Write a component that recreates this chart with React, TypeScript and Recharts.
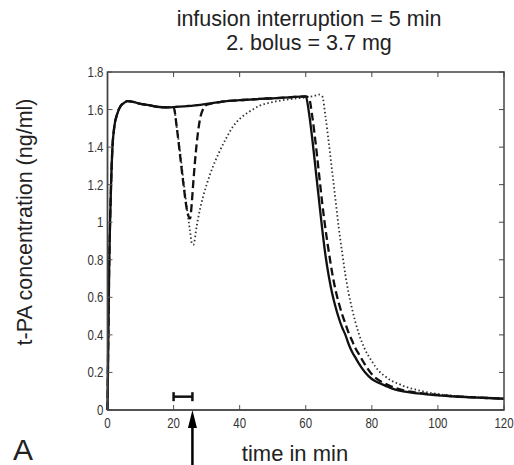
import React from 'react';
import { LineChart, Line, XAxis, YAxis, ReferenceLine, ReferenceDot } from 'recharts';

const TIME = [0, 0.5, 1, 1.5, 2, 3, 4, 5, 6, 8, 10, 12, 15, 18, 20, 21, 22, 23, 24, 25, 25.5, 26, 27, 28, 29, 30, 32, 34, 36, 38, 40, 43, 46, 50, 55, 60, 61, 62, 63, 64, 65, 66, 67, 68, 69, 70, 71, 72, 73, 74, 75, 76, 78, 80, 82, 84, 86, 88, 90, 93, 96, 100, 105, 110, 115, 120];

const SOLID = [0, 0.75, 1.15, 1.4, 1.5, 1.58, 1.62, 1.635, 1.645, 1.64, 1.63, 1.625, 1.615, 1.612, 1.613, 1.615, 1.616, 1.617, 1.618, 1.62, 1.62, 1.621, 1.623, 1.625, 1.628, 1.63, 1.635, 1.64, 1.645, 1.648, 1.65, 1.653, 1.657, 1.66, 1.665, 1.67, 1.58, 1.44, 1.28, 1.12, 0.96, 0.82, 0.71, 0.62, 0.55, 0.49, 0.44, 0.4, 0.35, 0.31, 0.28, 0.25, 0.2, 0.165, 0.145, 0.13, 0.115, 0.105, 0.098, 0.09, 0.085, 0.078, 0.072, 0.068, 0.064, 0.06];

const DASHED = [0, 0.75, 1.15, 1.4, 1.5, 1.58, 1.62, 1.635, 1.645, 1.64, 1.63, 1.625, 1.615, 1.612, 1.613, 1.5, 1.35, 1.2, 1.07, 1.02, 1.1, 1.22, 1.42, 1.55, 1.605, 1.625, 1.635, 1.64, 1.645, 1.648, 1.65, 1.653, 1.657, 1.66, 1.665, 1.67, 1.66, 1.56, 1.42, 1.26, 1.1, 0.96, 0.84, 0.73, 0.64, 0.57, 0.51, 0.46, 0.41, 0.37, 0.33, 0.3, 0.24, 0.19, 0.16, 0.14, 0.125, 0.112, 0.103, 0.094, 0.087, 0.08, 0.073, 0.068, 0.064, 0.06];

const DOTTED = [0, 0.75, 1.15, 1.4, 1.5, 1.58, 1.62, 1.635, 1.645, 1.64, 1.63, 1.625, 1.615, 1.612, 1.613, 1.5, 1.37, 1.22, 1.08, 0.95, 0.89, 0.88, 0.98, 1.07, 1.14, 1.2, 1.3, 1.38, 1.45, 1.51, 1.55, 1.59, 1.62, 1.64, 1.655, 1.665, 1.668, 1.67, 1.675, 1.68, 1.67, 1.56, 1.42, 1.27, 1.12, 0.97, 0.84, 0.72, 0.62, 0.54, 0.47, 0.41, 0.32, 0.26, 0.21, 0.18, 0.155, 0.14, 0.125, 0.11, 0.097, 0.085, 0.075, 0.069, 0.065, 0.061];

const X_TICKS = [0, 20, 40, 60, 80, 100, 120];
const Y_TICKS = [0, 0.2, 0.4, 0.6, 0.8, 1, 1.2, 1.4, 1.6, 1.8];
const X_DOMAIN = [0, 120];
const Y_DOMAIN = [0, 1.8];

const INTERRUPTION = [20, 25.7];
const BRACKET_Y = 0.071;
const BRACKET_HALF = 0.024;
const ARROW_T = 25.7;

const TITLE = ['infusion interruption = 5 min', '2. bolus = 3.7 mg'];
const X_LABEL = 'time in min';
const Y_LABEL = 't-PA concentration (ng/ml)';
const PANEL = 'A';

const data = TIME.map((t, i) => ({ t, solid: SOLID[i], dashed: DASHED[i], dotted: DOTTED[i] }));

const AX = '#555';
const FRAME = '#444';
const FONT = "'Liberation Sans', Arial, sans-serif";
const TICK_LEN = 5;

const CHART_W = 514;
const CHART_H = 465;
const MARGIN = { top: 72, right: 10, bottom: 25, left: 0 };
const X_AXIS_H = 30;
const Y_AXIS_W = 107.5;
const PLOT_L = MARGIN.left + Y_AXIS_W;
const PLOT_T = MARGIN.top;
const PLOT_W = CHART_W - MARGIN.left - MARGIN.right - Y_AXIS_W;
const PLOT_H = CHART_H - MARGIN.top - MARGIN.bottom - X_AXIS_H;

const BottomTick = (p: any) => (
  <g>
    <line x1={p.x} y1={p.y} x2={p.x} y2={p.y - TICK_LEN} stroke={AX} strokeWidth={1} />
    <text transform={`translate(${p.x},${p.y + 18}) scale(0.82,1)`} textAnchor="middle" fontSize={14} fontFamily={FONT} fill="#333">
      {String(p.payload.value)}
    </text>
  </g>
);

const LeftTick = (p: any) => (
  <g>
    <line x1={p.x} y1={p.y} x2={p.x + TICK_LEN} y2={p.y} stroke={AX} strokeWidth={1} />
    <text transform={`translate(${p.x - 4},${p.y}) scale(0.82,1)`} dy="0.36em" textAnchor="end" fontSize={14} fontFamily={FONT} fill="#333">
      {String(p.payload.value)}
    </text>
  </g>
);

const ArrowShape = (p: any) => {
  const cx = p.cx;
  const cy = p.cy;
  return (
    <g>
      <polygon points={`${cx},${cy} ${cx - 4.5},${cy + 18} ${cx + 4.5},${cy + 18}`} fill="#000" />
      <line x1={cx} y1={cy + 16} x2={cx} y2={cy + 58} stroke="#000" strokeWidth={2.5} />
    </g>
  );
};

function frameTicksPath(): string {
  const right = PLOT_L + PLOT_W;
  const parts: string[] = [];
  X_TICKS.forEach((v) => {
    const x = PLOT_L + ((v - X_DOMAIN[0]) / (X_DOMAIN[1] - X_DOMAIN[0])) * PLOT_W;
    parts.push(`M${x},${PLOT_T}V${PLOT_T + TICK_LEN}`);
  });
  Y_TICKS.forEach((v) => {
    const y = PLOT_T + PLOT_H - ((v - Y_DOMAIN[0]) / (Y_DOMAIN[1] - Y_DOMAIN[0])) * PLOT_H;
    parts.push(`M${right},${y}H${right - TICK_LEN}`);
  });
  return parts.join('');
}

export default function App() {
  return (
    <div style={{ position: 'absolute', left: 0, top: 0, width: CHART_W, height: CHART_H }}>
      <LineChart width={CHART_W} height={CHART_H} data={data} margin={MARGIN}>
        <XAxis
          dataKey="t"
          type="number"
          domain={X_DOMAIN}
          ticks={X_TICKS}
          height={X_AXIS_H}
          tickSize={0}
          tickMargin={0}
          tickLine={false}
          axisLine={{ stroke: AX, strokeWidth: 1.4 }}
          tick={<BottomTick />}
          interval={0}
        />
        <YAxis
          type="number"
          domain={Y_DOMAIN}
          ticks={Y_TICKS}
          width={Y_AXIS_W}
          tickSize={0}
          tickMargin={0}
          tickLine={false}
          axisLine={{ stroke: AX, strokeWidth: 1.4 }}
          tick={<LeftTick />}
          interval={0}
        />
        <Line type="monotone" dataKey="dotted" stroke="#333" strokeWidth={1.8} strokeDasharray="1.5 2.5" dot={false} isAnimationActive={false} />
        <Line type="monotone" dataKey="dashed" stroke="#111" strokeWidth={2.3} strokeDasharray="8 4" dot={false} isAnimationActive={false} />
        <Line type="monotone" dataKey="solid" stroke="#111" strokeWidth={2.3} dot={false} isAnimationActive={false} />
        <ReferenceLine segment={[{ x: INTERRUPTION[0], y: BRACKET_Y }, { x: INTERRUPTION[1], y: BRACKET_Y }]} stroke="#111" strokeWidth={2.5} ifOverflow="visible" />
        <ReferenceLine segment={[{ x: INTERRUPTION[0], y: BRACKET_Y - BRACKET_HALF }, { x: INTERRUPTION[0], y: BRACKET_Y + BRACKET_HALF }]} stroke="#111" strokeWidth={2.5} ifOverflow="visible" />
        <ReferenceLine segment={[{ x: INTERRUPTION[1], y: BRACKET_Y - BRACKET_HALF }, { x: INTERRUPTION[1], y: BRACKET_Y + BRACKET_HALF }]} stroke="#111" strokeWidth={2.5} ifOverflow="visible" />
        <ReferenceDot x={ARROW_T} y={0} r={0} ifOverflow="visible" shape={<ArrowShape />} />
      </LineChart>
      <svg width={CHART_W} height={CHART_H} viewBox={`0 0 ${CHART_W} ${CHART_H}`} style={{ position: 'absolute', left: 0, top: 0, pointerEvents: 'none', zIndex: 5 }}>
        <rect x={PLOT_L} y={PLOT_T} width={PLOT_W} height={PLOT_H} fill="none" stroke={FRAME} strokeWidth={1.5} />
        <path d={frameTicksPath()} fill="none" stroke={FRAME} strokeWidth={1} />
        <text x={309} y={26} textAnchor="middle" fontSize={21.5} fontFamily={FONT} fill="#222">{TITLE[0]}</text>
        <text x={309} y={50} textAnchor="middle" fontSize={21.5} fontFamily={FONT} fill="#222">{TITLE[1]}</text>
        <text x={32} y={222} textAnchor="middle" fontSize={21.5} fontFamily={FONT} fill="#222" transform="rotate(-90, 32, 222)">{Y_LABEL}</text>
        <text x={295} y={461} textAnchor="middle" fontSize={22} fontFamily={FONT} fill="#222">{X_LABEL}</text>
        <text x={13} y={460} fontSize={30} fontFamily={FONT} fill="#222">{PANEL}</text>
      </svg>
    </div>
  );
}
